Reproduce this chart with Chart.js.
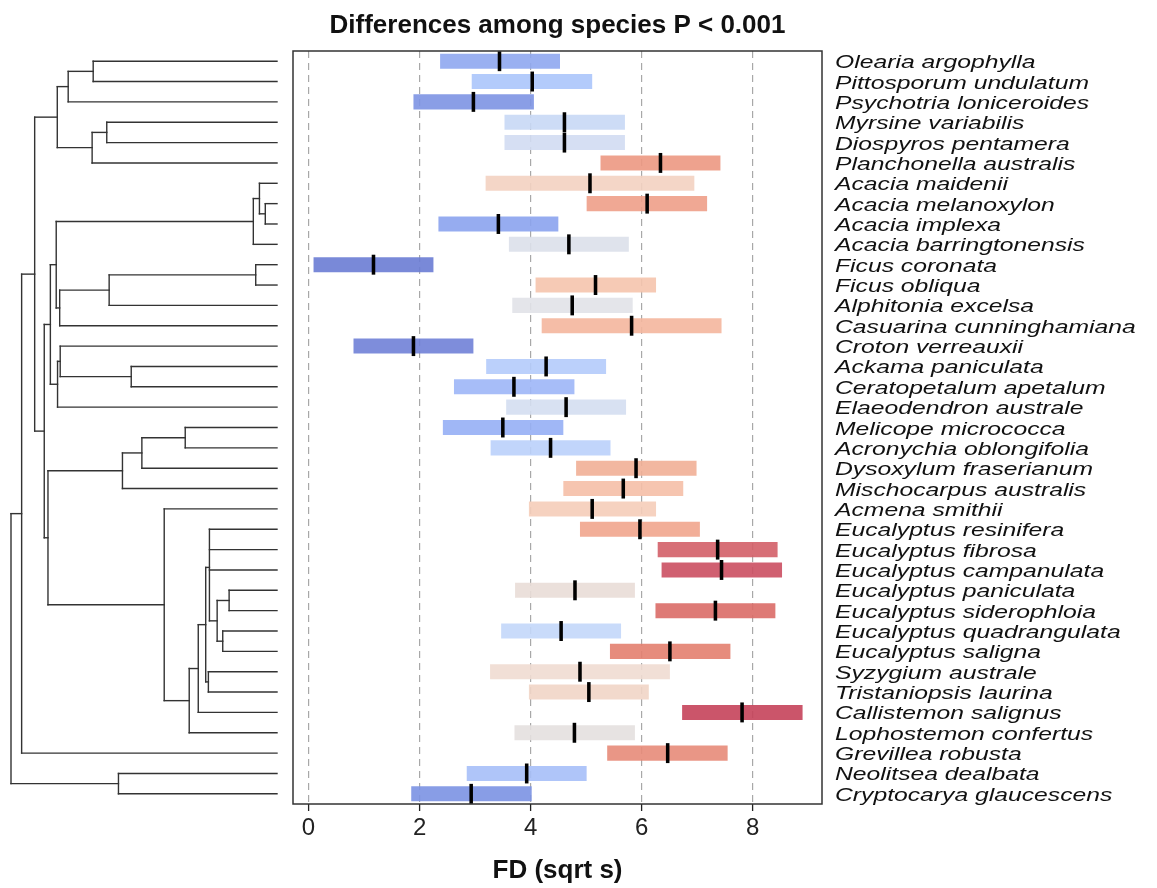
<!DOCTYPE html>
<html>
<head>
<meta charset="utf-8">
<title>FD by species</title>
<script src="https://cdn.jsdelivr.net/npm/chart.js@4.4.1/dist/chart.umd.min.js"></script>
<style>
  html, body { margin: 0; padding: 0; background: #fff; }
  canvas { display: block; }
</style>
</head>
<body>
<canvas id="fd-chart" width="1157" height="888"></canvas>
<script>
// species, top to bottom (same order as the tree tips)
const species = [
  'Olearia argophylla', 'Pittosporum undulatum', 'Psychotria loniceroides',
  'Myrsine variabilis', 'Diospyros pentamera', 'Planchonella australis',
  'Acacia maidenii', 'Acacia melanoxylon', 'Acacia implexa',
  'Acacia barringtonensis', 'Ficus coronata', 'Ficus obliqua',
  'Alphitonia excelsa', 'Casuarina cunninghamiana', 'Croton verreauxii',
  'Ackama paniculata', 'Ceratopetalum apetalum', 'Elaeodendron australe',
  'Melicope micrococca', 'Acronychia oblongifolia', 'Dysoxylum fraserianum',
  'Mischocarpus australis', 'Acmena smithii', 'Eucalyptus resinifera',
  'Eucalyptus fibrosa', 'Eucalyptus campanulata', 'Eucalyptus paniculata',
  'Eucalyptus siderophloia', 'Eucalyptus quadrangulata', 'Eucalyptus saligna',
  'Syzygium australe', 'Tristaniopsis laurina', 'Callistemon salignus',
  'Lophostemon confertus', 'Grevillea robusta', 'Neolitsea dealbata',
  'Cryptocarya glaucescens'
];

// lower / upper ends of each interval and the median
const lower = [
  2.37, 2.94, 1.89, 3.53, 3.53, 5.26, 3.19, 5.01, 2.34, 3.61,
  0.09, 4.09, 3.67, 4.20, 0.81, 3.20, 2.62, 3.56, 2.42, 3.28,
  4.82, 4.59, 3.97, 4.89, 6.29, 6.36, 3.72, 6.25, 3.47, 5.43,
  3.27, 3.97, 6.73, 3.71, 5.38, 2.85, 1.85
];
const upper = [
  4.53, 5.11, 4.06, 5.70, 5.70, 7.42, 6.95, 7.18, 4.50, 5.77,
  2.25, 6.26, 5.84, 7.44, 2.97, 5.36, 4.79, 5.72, 4.59, 5.44,
  6.99, 6.75, 6.26, 7.05, 8.45, 8.53, 5.88, 8.41, 5.63, 7.60,
  6.51, 6.13, 8.90, 5.88, 7.55, 5.01, 4.02
];
const medians = [
  3.44, 4.03, 2.97, 4.61, 4.61, 6.34, 5.07, 6.10, 3.42, 4.69,
  1.17, 5.17, 4.75, 5.82, 1.89, 4.28, 3.70, 4.64, 3.50, 4.36,
  5.90, 5.67, 5.11, 5.97, 7.37, 7.44, 4.80, 7.33, 4.55, 6.51,
  4.89, 5.05, 7.81, 4.79, 6.47, 3.93, 2.93
];

// bar colours (blue = low, red = high)
const barColors = [
  '#8fa7ef', '#abc5fb', '#7d94e3', '#c8d8f5', '#d1dcf2', '#ec9882',
  '#f3d2c1', '#ee9f88', '#8ba3ee', '#dce0ea', '#6a7cd4', '#f5c4ad',
  '#e1e2e8', '#f4b69d', '#7081d7', '#b4cbfb', '#9db6f7', '#d4def1',
  '#96aff5', '#bad0fb', '#f1af96', '#f5bfa7', '#f5cdb9', '#f1a58d',
  '#d35f68', '#cb4f62', '#e9ddd7', '#da6b67', '#c3d7fa', '#e37f6f',
  '#f0dcd2', '#f1d5c6', '#c5425a', '#e4e0df', '#e78b79', '#a6bff8',
  '#7b92e3'
];

const xTicks = [0, 2, 4, 6, 8];

// dendrogram: [node height (root = 1), ...children]; tips are species names
const tree =
  [1.0,
    [0.960,
      [0.911,
        [0.826,
          [0.785, [0.691, 'Olearia argophylla', 'Pittosporum undulatum'], 'Psychotria loniceroides'],
          [0.695, [0.640, 'Myrsine variabilis', 'Diospyros pentamera'], 'Planchonella australis']],
        [0.875,
          [0.852,
            [0.830,
              [0.089, [0.066, 'Acacia maidenii', [0.044, 'Acacia melanoxylon', 'Acacia implexa']], 'Acacia barringtonensis'],
              [0.817, [0.631, [0.080, 'Ficus coronata', 'Ficus obliqua'], 'Alphitonia excelsa'], 'Casuarina cunninghamiana']],
            [0.825, [0.815, 'Croton verreauxii', [0.548, 'Ackama paniculata', 'Ceratopetalum apetalum']], 'Elaeodendron australe']],
          [0.861,
            [0.581, [0.508, [0.345, 'Melicope micrococca', 'Acronychia oblongifolia'], 'Dysoxylum fraserianum'], 'Mischocarpus australis'],
            [0.424, 'Acmena smithii',
              [0.330,
                [0.296,
                  [0.268,
                    [0.254, 'Eucalyptus resinifera', 'Eucalyptus fibrosa', 'Eucalyptus campanulata',
                      [0.225,
                        [0.180, 'Eucalyptus paniculata', 'Eucalyptus siderophloia'],
                        [0.204, 'Eucalyptus quadrangulata', 'Eucalyptus saligna']]],
                    [0.258, 'Syzygium australe', 'Tristaniopsis laurina']],
                  'Callistemon salignus'],
                'Lophostemon confertus']]]]],
      'Grevillea robusta'],
    [0.596, 'Neolitsea dealbata', 'Cryptocarya glaucescens']];

const FONT = '"Liberation Sans", Arial, sans-serif';

// title, box, species names and the tree are drawn here
const extras = {
  id: 'extras',
  afterDatasetsDraw(chart) {
    const { ctx, chartArea: a } = chart;
    ctx.save();
    ctx.strokeStyle = '#333';
    ctx.lineWidth = 1.5;
    ctx.strokeRect(a.left, a.top, a.right - a.left, a.bottom - a.top);
    ctx.restore();
  },
  afterDraw(chart) {
    const { ctx, chartArea: a } = chart;
    const y = chart.scales.y;

    // title
    ctx.save();
    ctx.fillStyle = '#111';
    ctx.font = 'bold 26px ' + FONT;
    ctx.textAlign = 'center';
    ctx.fillText('Differences among species P < 0.001', (a.left + a.right) / 2, 33);
    ctx.restore();

    // species names on the right (stretched a bit, like the original device)
    ctx.save();
    ctx.fillStyle = '#111';
    ctx.font = 'italic 19px ' + FONT;
    species.forEach((name, i) => {
      ctx.save();
      ctx.translate(a.right + 13, y.getPixelForValue(i) + 7);
      ctx.scale(1.3, 1);
      ctx.fillText(name, 0, 0);
      ctx.restore();
    });
    ctx.restore();

    // tree on the left
    const tipX = a.left - 16;
    const rootX = 11;
    const hx = h => tipX - h * (tipX - rootX);
    ctx.save();
    ctx.strokeStyle = '#333';
    ctx.lineWidth = 1.4;
    ctx.lineCap = 'square';
    const line = (x1, y1, x2, y2) => {
      ctx.beginPath();
      ctx.moveTo(x1, y1);
      ctx.lineTo(x2, y2);
      ctx.stroke();
    };
    // returns [x, y] of the node and draws its branches
    const drawNode = node => {
      if (typeof node === 'string') {
        return [hx(0), y.getPixelForValue(species.indexOf(node))];
      }
      const x = hx(node[0]);
      const kids = node.slice(1).map(drawNode);
      const ys = kids.map(k => k[1]);
      line(x, Math.min(...ys), x, Math.max(...ys));
      kids.forEach(k => line(x, k[1], k[0], k[1]));
      return [x, ys.reduce((s, v) => s + v, 0) / ys.length];
    };
    drawNode(tree);
    ctx.restore();
  }
};

new Chart(document.getElementById('fd-chart'), {
  type: 'bar',
  data: {
    labels: species,
    datasets: [
      {
        label: 'median',
        data: medians.map(m => [m - 0.032, m + 0.032]),
        backgroundColor: '#000',
        barPercentage: 0.98,
        categoryPercentage: 1,
        grouped: false,
        order: 0
      },
      {
        label: 'range',
        data: lower.map((l, i) => [l, upper[i]]),
        backgroundColor: barColors.map(c => c + 'e6'),
        barPercentage: 0.74,
        categoryPercentage: 1,
        grouped: false,
        order: 1
      }
    ]
  },
  options: {
    indexAxis: 'y',
    responsive: false,
    animation: false,
    layout: { padding: { left: 293, right: 335, top: 51, bottom: 0 } },
    plugins: {
      legend: { display: false },
      tooltip: { enabled: false }
    },
    scales: {
      y: { type: 'category', display: false },
      x: {
        type: 'linear',
        min: -0.28,
        max: 9.25,
        afterBuildTicks: s => { s.ticks = xTicks.map(v => ({ value: v })); },
        afterFit: s => { s.height = 84; },
        border: { display: false, dash: [7, 5] },
        grid: {
          color: '#a8a8a8',
          lineWidth: 1.2,
          drawTicks: true,
          tickLength: 7,
          tickColor: '#222',
          tickBorderDash: [],
          tickWidth: 1.3
        },
        ticks: {
          color: '#222',
          padding: 3,
          font: { family: FONT, size: 24 }
        },
        title: {
          display: true,
          text: 'FD (sqrt s)',
          color: '#111',
          font: { family: FONT, size: 26, weight: 'bold' },
          padding: { top: 0, bottom: 2 }
        }
      }
    }
  },
  plugins: [extras]
});
</script>
</body>
</html>
